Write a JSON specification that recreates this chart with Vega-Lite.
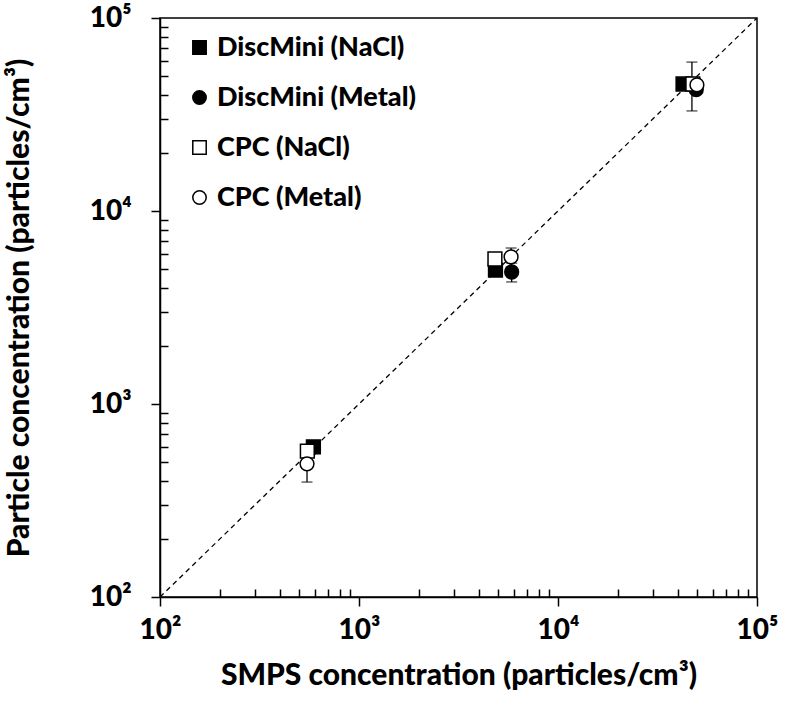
{
  "$schema": "https://vega.github.io/schema/vega-lite/v6.json",
  "width": 597,
  "height": 579,
  "autosize": {"type": "none"},
  "padding": {"left": 160, "top": 18, "right": 38, "bottom": 108},
  "background": "white",
  "config": {
    "view": {"stroke": "black", "strokeWidth": 1.5},
    "font": "Lato",
    "axis": {"grid": false, "domainColor": "black", "domainWidth": 1.5, "tickColor": "black", "tickWidth": 1.5,
             "labelFont": "Lato", "labelFontWeight": 900, "labelFontSize": 28, "labelColor": "black",
             "titleFont": "Lato", "titleFontWeight": 900, "titleFontSize": 30, "titleColor": "black"},
    "legend": {"labelFont": "Lato", "labelFontWeight": 900, "labelFontSize": 27, "labelColor": "black", "labelLimit": 0,
               "symbolSize": 180, "symbolStrokeWidth": 1.5, "rowPadding": 22, "labelOffset": 4}
  },
  "datasets": {
    "points": [
      {"series": "DiscMini (NaCl)", "order": 1, "smps": 590, "conc": 600},
      {"series": "DiscMini (NaCl)", "order": 1, "smps": 4850, "conc": 4940},
      {"series": "DiscMini (NaCl)", "order": 1, "smps": 42500, "conc": 45500},
      {"series": "DiscMini (Metal)", "order": 2, "smps": 560, "conc": 570},
      {"series": "DiscMini (Metal)", "order": 2, "smps": 5850, "conc": 4830},
      {"series": "DiscMini (Metal)", "order": 2, "smps": 49500, "conc": 42500},
      {"series": "CPC (NaCl)", "order": 3, "smps": 550, "conc": 570},
      {"series": "CPC (NaCl)", "order": 3, "smps": 4820, "conc": 5640},
      {"series": "CPC (NaCl)", "order": 3, "smps": 47600, "conc": 45500},
      {"series": "CPC (Metal)", "order": 4, "smps": 548, "conc": 490},
      {"series": "CPC (Metal)", "order": 4, "smps": 5810, "conc": 5780},
      {"series": "CPC (Metal)", "order": 4, "smps": 49900, "conc": 45000}
    ],
    "errors": [
      {"series": "CPC (Metal)", "smps": 548, "lo": 394, "hi": 590},
      {"series": "CPC (Metal)", "smps": 5810, "lo": 5130, "hi": 6430},
      {"series": "DiscMini (Metal)", "smps": 5850, "lo": 4290, "hi": 5370},
      {"series": "CPC (NaCl)", "smps": 47100, "lo": 33000, "hi": 59100}
    ],
    "diag": [
      {"smps": 100, "conc": 100},
      {"smps": 100000, "conc": 100000}
    ]
  },
  "layer": [
    {
      "data": {"name": "diag"},
      "mark": {"type": "line", "color": "black", "strokeWidth": 1.3, "strokeDash": [5, 4], "clip": true},
      "encoding": {
        "x": {"field": "smps", "type": "quantitative"},
        "y": {"field": "conc", "type": "quantitative"}
      }
    },
    {
      "data": {"name": "errors"},
      "mark": {"type": "rule", "color": "black", "strokeWidth": 1.3},
      "encoding": {
        "x": {"field": "smps", "type": "quantitative"},
        "y": {"field": "lo", "type": "quantitative"},
        "y2": {"field": "hi"}
      }
    },
    {
      "data": {"name": "errors"},
      "mark": {"type": "tick", "color": "black", "orient": "horizontal", "size": 11, "thickness": 1.3},
      "encoding": {
        "x": {"field": "smps", "type": "quantitative"},
        "y": {"field": "lo", "type": "quantitative"}
      }
    },
    {
      "data": {"name": "errors"},
      "mark": {"type": "tick", "color": "black", "orient": "horizontal", "size": 11, "thickness": 1.3},
      "encoding": {
        "x": {"field": "smps", "type": "quantitative"},
        "y": {"field": "hi", "type": "quantitative"}
      }
    },
    {
      "data": {"name": "points"},
      "mark": {"type": "point", "filled": true, "strokeWidth": 1.5, "opacity": 1, "size": 190},
      "encoding": {
        "x": {
          "field": "smps", "type": "quantitative",
          "scale": {"type": "log", "domain": [100, 100000], "nice": false},
          "axis": {
            "title": "SMPS concentration (particles/cm³)",
            "values": [100,200,300,400,500,600,700,800,900,1000,2000,3000,4000,5000,6000,7000,8000,9000,10000,20000,30000,40000,50000,60000,70000,80000,90000,100000],
            "labelExpr": "abs(log(datum.value)/LN10 - round(log(datum.value)/LN10)) < 0.001 ? '10' + ['','','²','³','⁴','⁵'][round(log(datum.value)/LN10)] : ''",
            "tickSize": {"condition": {"test": "abs(log(datum.value)/LN10 - round(log(datum.value)/LN10)) < 0.001", "value": 9}, "value": -8},
            "labelPadding": 10,
            "labelOverlap": false,
            "labelFlush": false,
            "titlePadding": 16
          }
        },
        "y": {
          "field": "conc", "type": "quantitative",
          "scale": {"type": "log", "domain": [100, 100000], "nice": false},
          "axis": {
            "title": "Particle concentration (particles/cm³)",
            "values": [100,200,300,400,500,600,700,800,900,1000,2000,3000,4000,5000,6000,7000,8000,9000,10000,20000,30000,40000,50000,60000,70000,80000,90000,100000],
            "labelExpr": "abs(log(datum.value)/LN10 - round(log(datum.value)/LN10)) < 0.001 ? '10' + ['','','²','³','⁴','⁵'][round(log(datum.value)/LN10)] : ''",
            "tickSize": {"condition": {"test": "abs(log(datum.value)/LN10 - round(log(datum.value)/LN10)) < 0.001", "value": 9}, "value": -8},
            "labelPadding": 20,
            "labelOverlap": false,
            "labelFlush": false,
            "titlePadding": 55
          }
        },
        "shape": {
          "field": "series", "type": "nominal",
          "scale": {"domain": ["DiscMini (NaCl)", "DiscMini (Metal)", "CPC (NaCl)", "CPC (Metal)"], "range": ["square", "circle", "square", "circle"]},
          "legend": {"title": null, "orient": "none", "legendX": 26, "legendY": 16}
        },
        "fill": {
          "field": "series", "type": "nominal",
          "scale": {"domain": ["DiscMini (NaCl)", "DiscMini (Metal)", "CPC (NaCl)", "CPC (Metal)"], "range": ["black", "black", "white", "white"]},
          "legend": {"title": null, "orient": "none", "legendX": 26, "legendY": 16}
        },
        "stroke": {
          "field": "series", "type": "nominal",
          "scale": {"domain": ["DiscMini (NaCl)", "DiscMini (Metal)", "CPC (NaCl)", "CPC (Metal)"], "range": ["black", "black", "black", "black"]},
          "legend": {"title": null, "orient": "none", "legendX": 26, "legendY": 16}
        },
        "order": {"field": "order", "type": "quantitative"}
      }
    }
  ]
}
